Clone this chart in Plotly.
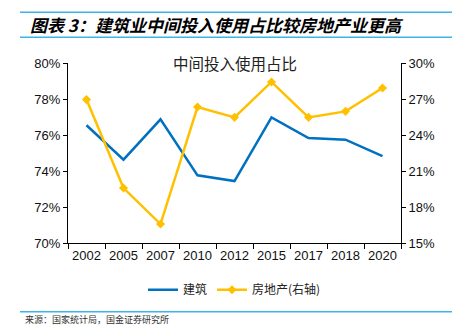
import plotly.graph_objects as go

years = ["2002", "2005", "2007", "2010", "2012", "2015", "2017", "2018", "2020"]
construction = [76.54, 74.63, 76.87, 73.76, 73.44, 76.98, 75.83, 75.74, 74.83]
real_estate = [26.95, 19.58, 16.58, 26.33, 25.47, 28.42, 25.47, 25.97, 27.92]

left_ticks = [70, 72, 74, 76, 78, 80]
right_ticks = [15, 18, 21, 24, 27, 30]

BLUE = "#0070C0"
YELLOW = "#FFC000"
CJK = "Noto Sans CJK SC"
LAT = "Liberation Sans, Arial, sans-serif"

fig = go.Figure()
fig.add_trace(go.Scatter(x=years, y=construction, name="建筑", mode="lines",
                         line=dict(color=BLUE, width=2.5)))
fig.add_trace(go.Scatter(x=years, y=real_estate, name="房地产(右轴)", mode="lines+markers",
                         line=dict(color=YELLOW, width=2.5),
                         marker=dict(symbol="diamond", size=7, color=YELLOW),
                         yaxis="y2"))

fig.update_layout(
    width=452, height=327,
    margin=dict(l=68, r=51, t=62.7, b=84.3),
    paper_bgcolor="white", plot_bgcolor="white",
    showlegend=True,
    legend=dict(orientation="h", x=0.5, xanchor="center", y=-0.26, yanchor="middle",
                font=dict(family=CJK, size=12, color="#222"), itemwidth=30,
                tracegroupgap=0),
    xaxis=dict(type="category", showline=True, linecolor="#000", linewidth=1,
               ticks="outside", tickson="boundaries", ticklen=5, tickcolor="#000",
               tickangle=0,
               tickfont=dict(family=LAT, size=13, color="#111"),
               showgrid=False, range=[-0.5, 8.5]),
    yaxis=dict(range=[70, 80], tickvals=left_ticks,
               ticktext=[f"{v}%" for v in left_ticks],
               showline=True, linecolor="#000", linewidth=1,
               ticks="outside", ticklen=4, tickcolor="#000",
               tickfont=dict(family=LAT, size=13, color="#111"),
               showgrid=False, zeroline=False),
    yaxis2=dict(range=[15, 30], tickvals=right_ticks,
                ticktext=[f"{v}%" for v in right_ticks],
                overlaying="y", side="right",
                showline=True, linecolor="#000", linewidth=1,
                ticks="outside", ticklen=4, tickcolor="#000",
                tickfont=dict(family=LAT, size=13, color="#111"),
                showgrid=False, zeroline=False),
    shapes=[
        dict(type="line", xref="paper", yref="paper", x0=-48/333, x1=384/333,
             y0=1 + (62.7 - 12) / 180, y1=1 + (62.7 - 12) / 180,
             line=dict(color="#3BB4E8", width=1.5)),
        dict(type="line", xref="paper", yref="paper", x0=-48/333, x1=384/333,
             y0=1 + (62.7 - 37) / 180, y1=1 + (62.7 - 37) / 180,
             line=dict(color="#3BB4E8", width=1.5)),
        dict(type="line", xref="paper", yref="paper", x0=-48/333, x1=384/333,
             y0=-(311.5 - 242.7) / 180, y1=-(311.5 - 242.7) / 180,
             line=dict(color="#3BB4E8", width=1.5)),
    ],
    annotations=[
        dict(text="<b><i>图表 3：建筑业中间投入使用占比较房地产业更高</i></b>",
             xref="paper", yref="paper", x=-40/333, xanchor="left",
             y=1 + (62.7 - 24.5) / 180, yanchor="middle", showarrow=False,
             font=dict(family=CJK, size=17, color="#000")),
        dict(text="中间投入使用占比", xref="paper", yref="paper", x=0.5, xanchor="center",
             y=1 + 0.5 / 180, yanchor="middle", showarrow=False,
             font=dict(family=CJK, size=15.5, color="#222")),
        dict(text="来源：国家统计局，国金证券研究所", xref="paper", yref="paper",
             x=-44/333, xanchor="left", y=-(312 - 242.7) / 180, yanchor="top",
             showarrow=False, borderpad=0,
             font=dict(family=CJK, size=9, color="#333")),
    ],
)

fig.write_html("out.html")
